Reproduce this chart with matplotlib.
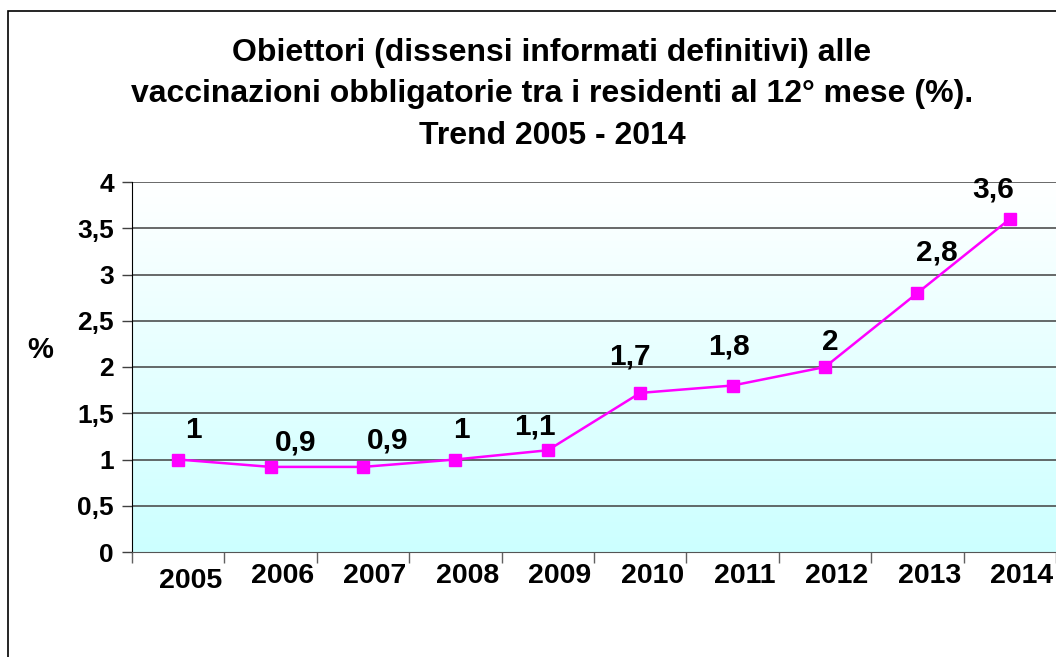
import numpy as np
import matplotlib.pyplot as plt
import matplotlib.transforms as mtransforms
from matplotlib.patches import Rectangle

plt.rcParams['font.family'] = ['Liberation Sans', 'DejaVu Sans']

years = ['2005', '2006', '2007', '2008', '2009', '2010', '2011', '2012', '2013', '2014']
values = [1.0, 0.92, 0.92, 1.0, 1.1, 1.72, 1.8, 2.0, 2.8, 3.6]
value_labels = ['1', '0,9', '0,9', '1', '1,1', '1,7', '1,8', '2', '2,8', '3,6']
ytick_vals = [0, 0.5, 1, 1.5, 2, 2.5, 3, 3.5, 4]
ytick_labels = ['0', '0,5', '1', '1,5', '2', '2,5', '3', '3,5', '4']

# label offsets in pixels (dx, dy), as placed by hand in the original
label_off = [(15, 29), (25, 24), (25, 26), (6, 29), (-13, 24),
             (-10, 36), (-4, 39), (5, 25), (19, 41), (-17, 30)]

W, H = 1056, 657
fig = plt.figure(figsize=(W / 100, H / 100), dpi=100)

# outer frame (right and bottom edges fall outside the picture)
fig.add_artist(Rectangle((8 / W, -0.1), 1.5, 1.1 - 11 / H, transform=fig.transFigure,
                         fill=False, edgecolor='black', linewidth=1.2))

ax = fig.add_axes([132 / W, (H - 552) / H, 1 - 132 / W, 370 / H])
x = np.arange(len(years))
ax.set_xlim(-0.5, len(years) - 0.5)
ax.set_ylim(0, 4)

# gradient background white -> light cyan
grad = np.linspace(0, 1, 256).reshape(-1, 1)
top = np.array([1.0, 1.0, 1.0])
bot = np.array([0.80, 1.0, 1.0])
img = top + (bot - top) * grad[:, :, None]
ax.imshow(img, extent=[0, 1, 0, 1], transform=ax.transAxes, aspect='auto', zorder=0)

for yv in ytick_vals[1:]:
    ax.axhline(yv, color='#404040', linewidth=1.1, zorder=1)

ax.plot(x, values, color='#FF00FF', linewidth=1.8, marker='s', markersize=9,
        markerfacecolor='#FF00FF', markeredgecolor='#FF00FF', zorder=3)

for i, (v, lab) in enumerate(zip(values, value_labels)):
    dx, dy = label_off[i]
    ax.annotate(lab, (x[i], v), xytext=(dx * 0.72, dy * 0.72), textcoords='offset points',
                ha='center', va='center', fontsize=21.5, fontweight='bold', zorder=4)

ax.set_yticks(ytick_vals)
ax.set_yticklabels(ytick_labels, fontsize=19, fontweight='bold')
ax.tick_params(axis='y', length=7, width=1, pad=6, color='#404040')

ax.set_xticks(x)
ax.set_xticklabels(years, fontsize=20.5, fontweight='bold')
ax.tick_params(axis='x', which='major', length=0, pad=8)
ax.set_xticks(np.arange(-0.5, len(years)), minor=True)
ax.tick_params(axis='x', which='minor', length=8, width=1, color='#606060', direction='out')

for i, lbl in enumerate(ax.get_xticklabels()):
    dy = -5 if i == 0 else 0
    lbl.set_transform(lbl.get_transform() +
                      mtransforms.ScaledTranslation(12 / 100, dy / 100, fig.dpi_scale_trans))

ax.spines['top'].set_visible(False)
ax.spines['right'].set_visible(False)
ax.spines['left'].set_color('black')
ax.spines['bottom'].set_color('#555555')

fig.text(40 / W, (H - 350) / H, '%', fontsize=21, fontweight='bold', ha='center', va='center')

fig.text(552 / W, (H - 94) / H,
         'Obiettori (dissensi informati definitivi) alle\n'
         'vaccinazioni obbligatorie tra i residenti al 12° mese (%).\n'
         'Trend 2005 - 2014',
         fontsize=23, fontweight='bold', ha='center', va='center', linespacing=1.5)

plt.savefig('out.png', dpi=100)
